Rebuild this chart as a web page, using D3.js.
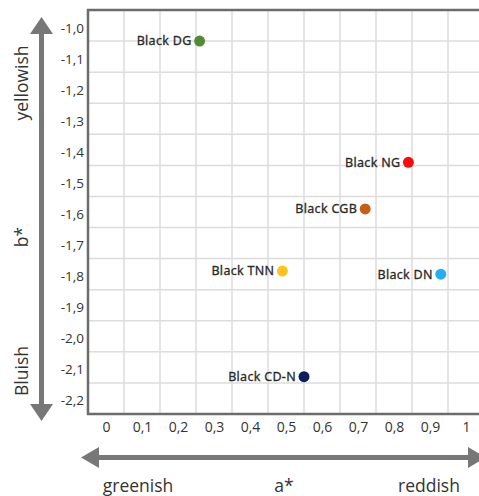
<!DOCTYPE html>
<html>
<head>
<meta charset="utf-8">
<script src="https://cdn.jsdelivr.net/npm/d3@7"></script>
<style>
  html, body { margin: 0; padding: 0; background: #fff; }
  svg { display: block; overflow: hidden; }
</style>
</head>
<body>
<svg id="chart" width="479" height="496"></svg>
<script>
// ---- data ----
const samples = ["Black DG", "Black NG", "Black CGB", "Black TNN", "Black DN", "Black CD-N"];
const aValues = [0.26, 0.84, 0.72, 0.49, 0.93, 0.55];
const bValues = [-1.05, -1.44, -1.59, -1.79, -1.80, -2.13];
const dotColors = ["#548a35", "#ff0a0a", "#c45f14", "#ffc21f", "#25aef2", "#0b1f5e"];
const xTicks = [0, 0.1, 0.2, 0.3, 0.4, 0.5, 0.6, 0.7, 0.8, 0.9, 1];
const yTicks = [-1.0, -1.1, -1.2, -1.3, -1.4, -1.5, -1.6, -1.7, -1.8, -1.9, -2.0, -2.1, -2.2];

const svg = d3.select("#chart");
const width = 479, height = 496;
const margin = { top: 10, right: -5, bottom: 82, left: 88 };
const plotLeft = margin.left, plotRight = width - margin.right;
const plotTop = margin.top, plotBottom = height - margin.bottom;

const x = d3.scaleLinear().domain([-0.05, 1.05]).range([plotLeft, plotRight]);
const y = d3.scaleLinear().domain([-0.95, -2.25]).range([plotTop, plotBottom]);

// decimal comma, plain hyphen for minus
const comma = (d) => d.toFixed(1).replace(".", ",");

//------------------GRID------------------
const grid = svg.append("g").attr("stroke", "#dcdcdc").attr("stroke-width", 1.5);
grid.selectAll(".vg")
    .data(xTicks.slice(0, -1).map(d => d + 0.05))
    .join("line")
    .attr("class", "vg")
    .attr("x1", d => x(d)).attr("x2", d => x(d))
    .attr("y1", plotTop).attr("y2", plotBottom);
grid.selectAll(".hg")
    .data(yTicks.slice(0, -1).map(d => d - 0.05))
    .join("line")
    .attr("class", "hg")
    .attr("x1", plotLeft).attr("x2", plotRight)
    .attr("y1", d => y(d)).attr("y2", d => y(d));

// frame
svg.append("path")
    .attr("d", `M${plotRight},${plotTop}H${plotLeft}V${plotBottom}H${plotRight}`)
    .attr("fill", "none")
    .attr("stroke", "#6b6b6b")
    .attr("stroke-width", 2.5);

//------------------AXES------------------
svg.append("g")
    .attr("transform", `translate(0,${plotBottom})`)
    .call(d3.axisBottom(x).tickValues(xTicks).tickSize(0)
        .tickFormat(d => d === 0 || d === 1 ? String(d) : comma(d)))
    .call(g => g.select(".domain").remove())
    .selectAll("text")
    .attr("y", 18)
    .attr("dy", 0)
    .attr("fill", "#333")
    .style("font-family", "'Open Sans', sans-serif")
    .style("font-size", "14px");

svg.append("g")
    .attr("transform", `translate(${plotLeft - 4},0)`)
    .call(d3.axisLeft(y).tickValues(yTicks).tickSize(0).tickFormat(comma))
    .call(g => g.select(".domain").remove())
    .selectAll("text")
    .attr("x", 0)
    .attr("dy", "0.85em")
    .attr("y", -5)
    .attr("fill", "#333")
    .style("font-family", "'Open Sans', sans-serif")
    .style("font-size", "13.5px");

//------------------ARROWS------------------
const arrowColor = "#777";
const arrows = svg.append("g").attr("fill", arrowColor);
arrows.append("line")
    .attr("x1", 41.5).attr("x2", 41.5).attr("y1", 30).attr("y2", 408)
    .attr("stroke", arrowColor).attr("stroke-width", 5);
arrows.append("path").attr("d", "M41.5,17L53,34H30Z");
arrows.append("path").attr("d", "M41.5,421L53,404H30Z");
arrows.append("line")
    .attr("x1", 95).attr("x2", 472).attr("y1", 457.5).attr("y2", 457.5)
    .attr("stroke", arrowColor).attr("stroke-width", 5);
arrows.append("path").attr("d", "M81,457.5L99,447V468Z");
arrows.append("path").attr("d", "M486,457.5L468,447V468Z");

//------------------AXIS TITLES------------------
const titleStyle = (s) => s
    .attr("fill", "#333")
    .style("font-family", "'Open Sans', sans-serif")
    .style("font-size", "17.5px");

[["yellowish", 83], ["b*", 237], ["Bluish", 371]].forEach(([t, cy]) => {
    svg.append("text")
        .attr("transform", `translate(28,${cy}) rotate(-90)`)
        .attr("text-anchor", "middle")
        .text(t)
        .call(titleStyle);
});
[["greenish", 138], ["a*", 284], ["reddish", 429]].forEach(([t, cx]) => {
    svg.append("text")
        .attr("x", cx).attr("y", 492)
        .attr("text-anchor", "middle")
        .text(t)
        .call(titleStyle);
});

//------------------POINTS------------------
const pts = samples.map((name, i) => ({ name, a: aValues[i], b: bValues[i], color: dotColors[i] }));
const pg = svg.append("g");
pg.selectAll("circle")
    .data(pts)
    .join("circle")
    .attr("cx", d => x(d.a))
    .attr("cy", d => y(d.b))
    .attr("r", 5.5)
    .attr("fill", d => d.color);
pg.selectAll("text")
    .data(pts)
    .join("text")
    .attr("x", d => x(d.a) - 8)
    .attr("y", d => y(d.b))
    .attr("dy", "0.35em")
    .attr("text-anchor", "end")
    .attr("fill", "#2a2a2a")
    .attr("stroke", "#2a2a2a")
    .attr("stroke-width", 0.3)
    .style("font-family", "'Noto Sans', sans-serif")
    .style("font-size", "12.5px")
    .style("letter-spacing", "0.3px")
    .text(d => d.name);
</script>
</body>
</html>
